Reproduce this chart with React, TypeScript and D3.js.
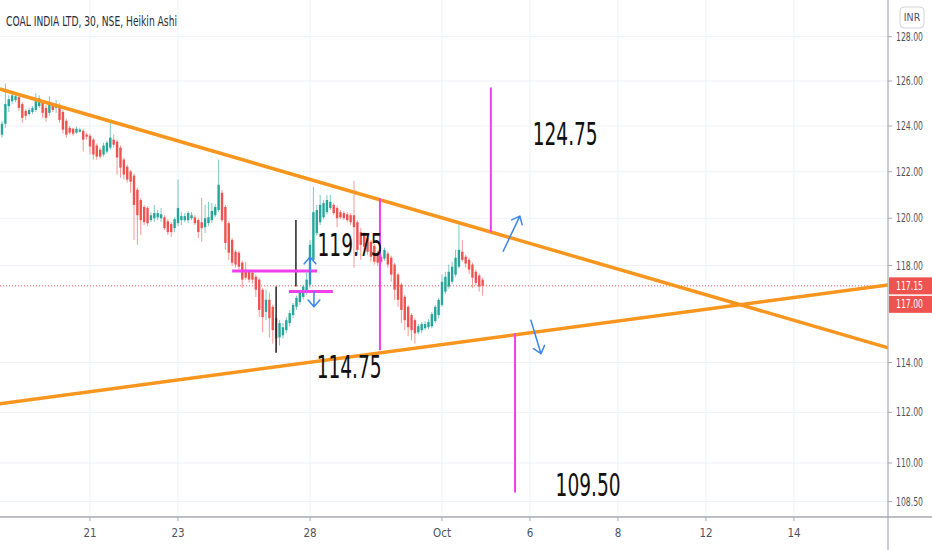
import * as d3 from "d3";

// Heikin Ashi 30-min bars, COAL INDIA (Sep 17 – Oct 1), 13 bars per trading day
const haOpen = [
  123.62, 124.1, 124.88, 125.1, 125.15, 125.28, 124.97, 124.67, 124.53, 124.62, 124.71, 124.88, 125.06,
  124.8, 124.58, 124.93, 124.8, 124.93, 124.62, 124.23, 123.92, 123.88, 123.71, 123.75, 123.79, 123.62,
  123.57, 123.4, 123.14, 122.96, 122.75, 122.88, 123.05, 123.4, 123.31, 123.05, 122.53, 122.22, 122.01,
  121.83, 121.22, 120.78, 120.48, 120.44, 119.92, 120.0, 120.04, 120.0, 120.04, 119.87, 119.75, 119.58,
  119.79, 119.92, 119.92, 119.92, 120.0, 120.04, 119.92, 119.83, 119.62, 119.79, 119.92, 120.13, 120.35,
  121.09, 120.48, 119.79, 119.08, 118.58, 118.54, 118.12, 117.83, 117.74, 117.7, 117.53, 117.41, 116.99,
  116.07, 116.57, 116.28, 115.81, 115.02, 115.11, 115.32, 115.61, 115.94, 116.28, 116.48, 116.69, 116.86,
  117.2, 118.24, 119.37, 119.83, 120.04, 120.26, 120.44, 120.57, 120.44, 120.26, 120.22, 120.17, 120.13,
  120.13, 119.83, 119.41, 119.29, 119.16, 119.0, 118.83, 118.54, 118.37, 118.29, 118.5, 118.33, 118.04,
  117.62, 117.2, 116.69, 116.28, 115.94, 115.73, 115.23, 115.32, 115.4, 115.44, 115.48, 115.69, 115.94,
  116.36, 116.91, 117.12, 117.32, 117.62, 117.95, 118.58, 118.37, 118.24, 118.04, 117.74, 117.58, 117.41,
];
const haClose = [
  124.1, 124.97, 125.19, 125.36, 125.32, 124.8, 124.36, 124.45, 124.71, 124.8, 125.1, 125.23, 124.58,
  124.36, 124.97, 124.71, 124.97, 124.27, 123.84, 123.62, 123.71, 123.66, 123.88, 123.84, 123.4, 123.53,
  123.1, 122.75, 122.66, 122.66, 123.14, 123.27, 123.49, 123.18, 122.62, 122.18, 121.88, 121.66, 121.57,
  120.57, 120.13, 119.92, 119.83, 119.79, 120.13, 120.22, 120.22, 120.17, 119.58, 119.41, 119.41, 119.96,
  120.44, 120.09, 120.09, 120.22, 120.13, 119.79, 119.41, 119.58, 120.0, 120.04, 120.31, 120.48, 121.44,
  119.92, 118.95, 118.54, 118.12, 118.04, 117.95, 117.41, 117.49, 117.41, 117.41, 116.99, 116.15, 115.86,
  116.57, 115.81, 115.32, 114.98, 115.61, 115.44, 115.73, 116.02, 116.36, 116.65, 116.86, 117.12, 117.41,
  118.87, 120.26, 120.35, 120.57, 120.65, 120.78, 120.7, 120.22, 120.0, 120.04, 120.0, 119.92, 119.83,
  119.62, 118.66, 118.87, 118.79, 118.58, 118.37, 118.16, 118.12, 118.16, 118.66, 118.04, 117.62, 116.99,
  116.57, 116.15, 115.73, 115.44, 115.32, 115.19, 115.48, 115.57, 115.57, 115.65, 115.98, 116.28, 116.57,
  117.32, 117.53, 117.74, 117.95, 118.33, 118.66, 118.24, 118.08, 117.83, 117.49, 117.28, 117.12, 117.16,
];
const haHigh = [
  124.23, 125.89, 125.36, 125.49, 125.45, 125.36, 125.06, 124.75, 124.8, 124.88, 125.45, 125.36, 125.15,
  124.93, 125.32, 125.01, 125.15, 125.01, 124.71, 124.32, 124.01, 123.92, 123.97, 123.92, 123.88, 123.71,
  123.66, 123.49, 123.23, 123.05, 123.27, 123.36, 124.14, 123.62, 123.4, 123.14, 122.62, 122.31, 122.09,
  121.92, 121.31, 120.87, 120.57, 120.52, 120.26, 120.57, 120.35, 120.44, 120.13, 119.96, 119.83, 120.04,
  121.66, 120.26, 120.22, 120.31, 120.26, 120.13, 120.0, 120.87, 120.57, 120.7, 120.65, 120.61, 122.53,
  121.22, 120.57, 119.87, 119.16, 118.66, 118.62, 118.2, 118.16, 117.83, 117.79, 117.62, 117.49, 117.07,
  116.99, 116.86, 116.36, 115.94, 115.73, 115.61, 115.86, 116.15, 116.44, 116.74, 116.95, 117.2, 117.7,
  119.08, 121.35, 120.57, 121.0, 120.78, 121.0, 121.0, 120.65, 120.52, 120.35, 120.31, 120.26, 120.22,
  121.61, 119.92, 119.58, 119.41, 119.25, 119.08, 118.91, 118.62, 118.45, 118.75, 118.58, 118.41, 118.12,
  117.7, 117.28, 116.78, 116.36, 116.02, 115.81, 115.57, 115.65, 115.69, 115.77, 116.07, 116.36, 116.65,
  117.62, 117.74, 118.04, 118.16, 118.66, 119.75, 119.08, 118.45, 118.33, 118.12, 117.83, 117.66, 117.49,
];
const haLow = [
  123.49, 123.92, 124.62, 124.97, 125.06, 124.67, 124.14, 124.27, 124.45, 124.53, 124.62, 124.8, 124.36,
  124.19, 124.45, 124.62, 124.58, 124.14, 123.66, 123.49, 123.62, 123.57, 123.66, 123.71, 122.88, 123.4,
  122.75, 122.53, 122.53, 122.57, 122.66, 122.79, 122.96, 123.05, 121.88, 121.74, 121.66, 121.53, 121.09,
  119.08, 118.87, 119.29, 119.71, 119.67, 119.83, 119.83, 119.92, 119.83, 119.5, 119.29, 119.21, 119.41,
  119.67, 119.71, 119.83, 119.79, 119.92, 119.71, 119.16, 119.0, 119.37, 119.67, 119.79, 120.04, 120.26,
  119.83, 118.66, 118.24, 117.99, 117.91, 117.83, 117.07, 117.41, 117.28, 117.24, 116.69, 115.86, 115.23,
  115.73, 115.02, 114.77, 114.4, 114.69, 114.98, 115.19, 115.48, 115.81, 116.15, 116.36, 116.57, 116.78,
  117.07, 118.16, 119.25, 119.71, 119.96, 120.17, 120.35, 120.13, 119.62, 119.96, 119.92, 119.83, 119.71,
  117.91, 118.45, 118.24, 118.66, 118.45, 118.16, 118.04, 117.99, 118.08, 118.2, 117.91, 117.32, 116.57,
  116.28, 115.61, 115.32, 115.07, 114.9, 114.77, 115.15, 115.19, 115.32, 115.36, 115.4, 115.61, 115.81,
  116.28, 116.82, 117.03, 117.24, 117.53, 117.87, 118.16, 117.91, 117.66, 117.07, 117.16, 116.91, 116.74,
];

// axis ticks (trading-day index, Sep 17 = 0)
const dayTicks = [2, 4, 7, 10, 12, 14, 16, 18];
const dayTickLabels = ["21", "23", "28", "Oct", "6", "8", "12", "14"];
const priceTicks = [128, 126, 124, 122, 120, 118, 114, 112, 110, 108.5];

const lastPrice = 117.15;
const secondPrice = 117.0;

// drawings: [day, price]
const upperTrend: [number, number][] = [[-0.05, 125.64], [20.14, 114.6]];
const lowerTrend: [number, number][] = [[-0.05, 112.34], [20.14, 117.19]];
const pinkVertical: [number, number][][] = [
  [[8.59, 120.85], [8.59, 114.5]],
  [[11.11, 125.71], [11.11, 119.41]],
  [[11.66, 115.19], [11.66, 108.85]],
];
const pinkHorizontal: [number, number][][] = [
  [[5.23, 117.77], [7.16, 117.77]],
  [[6.52, 116.92], [7.52, 116.92]],
];
const blackVertical: [number, number][][] = [
  [[6.68, 119.92], [6.68, 117.12]],
  [[6.23, 117.12], [6.23, 114.4]],
];
const blueArrows: [number, number][][] = [
  [[7.0, 117.32], [7.0, 118.36]],
  [[7.09, 116.91], [7.09, 116.28]],
  [[11.39, 118.6], [11.77, 120.09]],
  [[12.02, 115.73], [12.25, 114.36]],
];
const targetLabels = ["124.75", "119.75", "114.75", "109.50"];
const targetPos: [number, number][] = [[12.8, 123.69], [7.91, 118.9], [7.89, 113.86], [13.32, 109.15]];

const W = 932;
const H = 550;
const plotRight = 888;
const plotBottom = 517;

const GREEN = "#26a69a";
const RED = "#ef5350";
const ORANGE = "#f7961e";
const PINK = "#f040ec";
const BLUE = "#3c87e6";
const GRID = "#eef1f6";
const AXIS_TEXT = "#50535e";
const NARROW = "'Liberation Sans Narrow', 'DejaVu Sans Condensed', 'Liberation Sans', sans-serif";

const x = d3.scaleLinear().domain([0, 1]).range([2, 46]);
const y = d3.scaleLog().domain([126, 110]).range([81, 463]);

const pt = (p: [number, number]) => [x(p[0]), y(p[1])] as [number, number];

function arrowPath(a: [number, number], b: [number, number], size = 9) {
  const [x1, y1] = pt(a);
  const [x2, y2] = pt(b);
  const ang = Math.atan2(y2 - y1, x2 - x1);
  const spread = 0.7;
  const l = [x2 - size * Math.cos(ang - spread), y2 - size * Math.sin(ang - spread)];
  const r = [x2 - size * Math.cos(ang + spread), y2 - size * Math.sin(ang + spread)];
  return `M${x1},${y1}L${x2},${y2}M${l[0]},${l[1]}L${x2},${y2}L${r[0]},${r[1]}`;
}

const line = d3.line<[number, number]>().x((d) => x(d[0])).y((d) => y(d[1]));

export default function App() {
  return (
    <svg
      width={W}
      height={H}
      style={{ position: "absolute", left: 0, top: 0, background: "#fff" }}
    >
      <defs>
        <clipPath id="plot">
          <rect x={0} y={0} width={plotRight} height={plotBottom} />
        </clipPath>
      </defs>
      <rect width={W} height={H} fill="#fff" />

      {/* grid */}
      <g>
        {dayTicks.map((d) => (
          <line key={d} x1={x(d)} x2={x(d)} y1={0} y2={plotBottom} stroke={GRID} />
        ))}
        {priceTicks.map((p) => (
          <line key={p} x1={0} x2={plotRight} y1={y(p)} y2={y(p)} stroke={GRID} />
        ))}
      </g>

      <g clipPath="url(#plot)">
        {/* price line */}
        <line
          x1={0}
          x2={plotRight}
          y1={y(lastPrice)}
          y2={y(lastPrice)}
          stroke={RED}
          strokeWidth={1}
          strokeDasharray="1 2"
        />

        {/* candles */}
        {haOpen.map((o, i) => {
          const c = haClose[i];
          const col = c >= o ? GREEN : RED;
          const cx = x(i / 13);
          const yo = y(o);
          const yc = y(c);
          return (
            <g key={i}>
              <line
                x1={cx}
                x2={cx}
                y1={y(haHigh[i])}
                y2={y(haLow[i])}
                stroke={col}
                strokeOpacity={0.6}
                strokeWidth={1}
              />
              <rect
                x={cx - 1.2}
                width={2.4}
                y={Math.min(yo, yc)}
                height={Math.max(1, Math.abs(yo - yc))}
                fill={col}
              />
            </g>
          );
        })}

        {/* black verticals */}
        {blackVertical.map((s, i) => (
          <path key={i} d={line(s) ?? ""} stroke="#222" strokeWidth={1.5} fill="none" />
        ))}

        {/* trendlines */}
        <path d={line(upperTrend) ?? ""} stroke={ORANGE} strokeWidth={3.5} fill="none" />
        <path d={line(lowerTrend) ?? ""} stroke={ORANGE} strokeWidth={3.5} fill="none" />

        {/* pink measures */}
        {pinkVertical.map((s, i) => (
          <path key={i} d={line(s) ?? ""} stroke={PINK} strokeWidth={2} fill="none" />
        ))}
        {pinkHorizontal.map((s, i) => (
          <path key={i} d={line(s) ?? ""} stroke={PINK} strokeWidth={3} fill="none" />
        ))}

        {/* arrows */}
        {blueArrows.map((s, i) => (
          <path
            key={i}
            d={arrowPath(s[0], s[1])}
            stroke={BLUE}
            strokeWidth={1.5}
            fill="none"
            strokeLinecap="round"
            strokeLinejoin="round"
          />
        ))}

        {/* target labels */}
        {targetLabels.map((t, i) => {
          const [tx, ty] = pt(targetPos[i]);
          return (
            <text
              key={t}
              x={tx}
              y={ty}
              dy="0.36em"
              textAnchor="middle"
              fontFamily={NARROW}
              fontSize={32}
              textLength={65}
              lengthAdjust="spacingAndGlyphs"
              fill="#111"
            >
              {t}
            </text>
          );
        })}
      </g>

      {/* title */}
      <text
        x={6}
        y={21}
        dy="0.35em"
        fontFamily={NARROW}
        fontSize={13.5}
        textLength={171}
        lengthAdjust="spacingAndGlyphs"
        fill="#2a2e39"
      >
        COAL INDIA LTD, 30, NSE, Heikin Ashi
      </text>

      {/* axes lines */}
      <line x1={plotRight} x2={plotRight} y1={0} y2={H} stroke="#a7aab2" strokeWidth={1.2} />
      <line x1={0} x2={W} y1={plotBottom} y2={plotBottom} stroke="#a7aab2" strokeWidth={1.5} />

      {/* right axis */}
      <g fontFamily={NARROW} fontSize={11.5} fill={AXIS_TEXT}>
        {priceTicks.map((p) => (
          <g key={p}>
            <line x1={plotRight} x2={plotRight + 4} y1={y(p)} y2={y(p)} stroke="#a7aab2" />
            <text x={896} y={y(p)} dy="0.35em" textLength={27} lengthAdjust="spacingAndGlyphs">
              {p.toFixed(2)}
            </text>
          </g>
        ))}
      </g>

      {/* price badges */}
      <g fontFamily={NARROW} fontSize={11.5}>
        <rect x={plotRight + 1} y={y(lastPrice) - 8.5} width={W - plotRight} height={17} fill={RED} />
        <text x={896} y={y(lastPrice)} dy="0.35em" fill="#fff" textLength={27} lengthAdjust="spacingAndGlyphs">
          {lastPrice.toFixed(2)}
        </text>
        <rect x={plotRight + 1} y={y(lastPrice) + 10} width={W - plotRight} height={17} fill={RED} />
        <text x={896} y={y(lastPrice) + 18.5} dy="0.35em" fill="#fff" textLength={27} lengthAdjust="spacingAndGlyphs">
          {secondPrice.toFixed(2)}
        </text>
      </g>

      {/* INR badge */}
      <rect x={900} y={7} width={24} height={21} rx={4} fill="#fff" stroke="#d1d4dc" />
      <text x={912} y={17.5} dy="0.35em" textAnchor="middle" fontFamily={NARROW} fontSize={10.5} fill={AXIS_TEXT}>
        INR
      </text>

      {/* bottom axis */}
      <g fontFamily={NARROW} fontSize={11.5} fill={AXIS_TEXT}>
        {dayTicks.map((d, i) => (
          <g key={d}>
            <line x1={x(d)} x2={x(d)} y1={plotBottom} y2={plotBottom + 4} stroke="#a7aab2" />
            <text x={x(d)} y={533} dy="0.35em" textAnchor="middle">
              {dayTickLabels[i]}
            </text>
          </g>
        ))}
      </g>
    </svg>
  );
}
